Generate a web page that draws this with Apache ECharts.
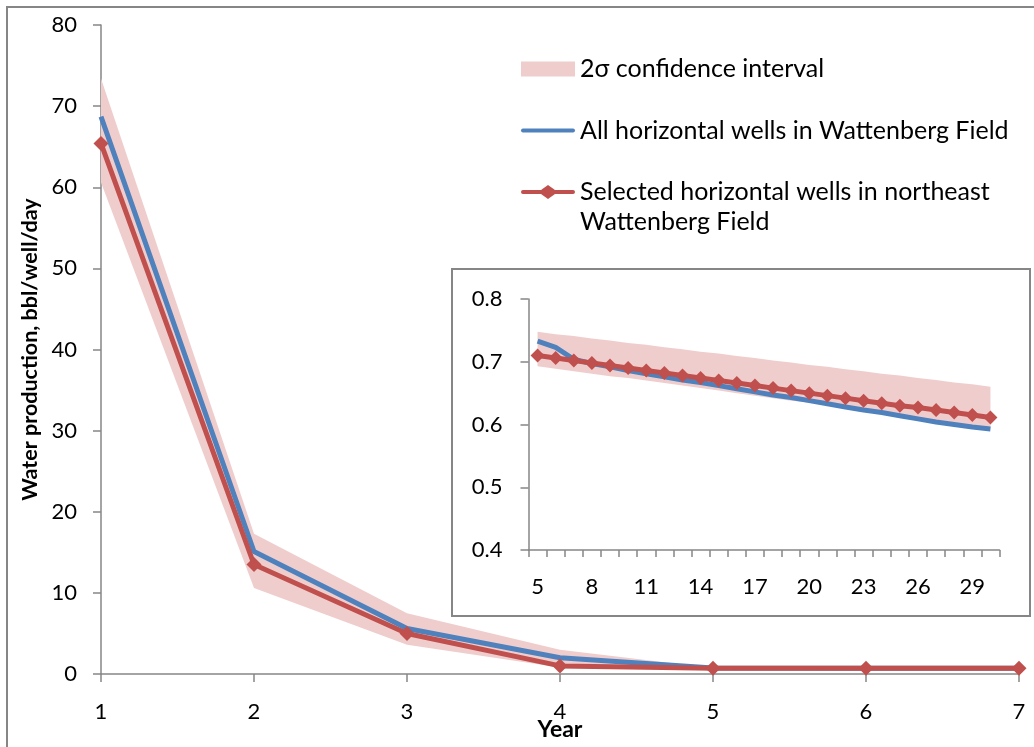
<!DOCTYPE html>
<html>
<head>
<meta charset="utf-8">
<script src="https://cdn.jsdelivr.net/npm/echarts@6/dist/echarts.min.js"></script>
<style>
  html, body { margin: 0; padding: 0; background: #fff; }
  #chart { width: 1034px; height: 747px; }
</style>
</head>
<body>
<div id="chart"></div>
<script>
// main chart, years 1-7
const years = ['1', '2', '3', '4', '5', '6', '7'];
const allWells = [68.7, 15.1, 5.6, 2.0, 0.733, 0.723, 0.704];
const selectedWells = [65.4, 13.5, 5.0, 1.0, 0.710, 0.706, 0.702];
const bandLow = [60.6, 10.6, 3.6, 0.8, 0.693, 0.689, 0.685];
const bandHigh = [73.4, 17.3, 7.5, 3.0, 0.748, 0.744, 0.741];

// inset, years 5-30
const insetYears = ['5', '6', '7', '8', '9', '10', '11', '12', '13', '14', '15', '16', '17',
  '18', '19', '20', '21', '22', '23', '24', '25', '26', '27', '28', '29', '30'];
const insetAll = [0.733, 0.723, 0.704, 0.697, 0.692, 0.686, 0.681, 0.676, 0.671, 0.667, 0.662,
  0.657, 0.652, 0.647, 0.643, 0.638, 0.633, 0.628, 0.623, 0.619, 0.614, 0.609, 0.604, 0.600, 0.596, 0.593];
const insetSelected = [0.710, 0.706, 0.702, 0.698, 0.694, 0.690, 0.686, 0.682, 0.678, 0.674, 0.670,
  0.666, 0.662, 0.658, 0.654, 0.650, 0.646, 0.642, 0.638, 0.634, 0.630, 0.627, 0.623, 0.619, 0.615, 0.611];
const insetLow = [0.693, 0.689, 0.685, 0.681, 0.677, 0.674, 0.670, 0.666, 0.662, 0.658, 0.654,
  0.650, 0.646, 0.642, 0.638, 0.635, 0.631, 0.627, 0.623, 0.619, 0.615, 0.611, 0.607, 0.603, 0.599, 0.595];
const insetHigh = [0.748, 0.744, 0.741, 0.737, 0.734, 0.730, 0.727, 0.723, 0.720, 0.716, 0.713,
  0.709, 0.706, 0.702, 0.699, 0.695, 0.692, 0.688, 0.685, 0.681, 0.678, 0.674, 0.671, 0.667, 0.664, 0.660];

const bandName = '2\u03c3 confidence interval';
const allName = 'All horizontal wells in Wattenberg Field';
const selName = 'Selected horizontal wells in northeast';

const FONT = 'Lato';
const GRAY = '#868686';
const BLUE = '#4F81BD';
const RED = '#C0504D';
const PINK = '#F0CDCD';

const diff = (hi, lo) => hi.map((v, i) => +(v - lo[i]).toFixed(4));

function bandSeries(stack, low, high, xi) {
  return [
    {
      type: 'line', stack: stack, data: low, xAxisIndex: xi, yAxisIndex: xi,
      symbol: 'none', lineStyle: { opacity: 0 }, silent: true, z: 1
    },
    {
      name: bandName, type: 'line', stack: stack, data: diff(high, low),
      xAxisIndex: xi, yAxisIndex: xi, symbol: 'none',
      lineStyle: { width: 0, color: PINK }, itemStyle: { color: PINK },
      areaStyle: { color: PINK, opacity: 1 }, silent: true, z: 1
    }
  ];
}

const axisLine = { show: true, lineStyle: { color: GRAY, width: 1.5 } };
const axisTick = { show: true, length: 8, lineStyle: { color: GRAY, width: 1.5 } };
const labelStyle = { color: '#000', fontFamily: FONT, fontSize: 22 };

const myChart = echarts.init(document.getElementById('chart'));
myChart.setOption({
  animation: false,
  backgroundColor: '#fff',
  grid: [
    { left: 101, right: 15, top: 25, bottom: 73, outerBoundsMode: 'none', containLabel: false },
    { left: 528.5, top: 299, width: 471, height: 251, outerBoundsMode: 'none', containLabel: false }
  ],
  legend: {
    orient: 'vertical',
    left: 521,
    top: 55,
    padding: 0,
    itemWidth: 54,
    itemHeight: 15,
    itemGap: 33.5,
    textStyle: { color: '#000', fontFamily: FONT, fontSize: 25, lineHeight: 28 },
    data: [
      { name: bandName, icon: 'rect' },
      { name: allName, icon: 'path://M2,0 L52,0 A2,2 0 0 1 52,4 L2,4 A2,2 0 0 1 2,0 Z' },
      { name: selName, icon: 'path://M2,5 L20,5 L27,0 L34,5 L52,5 A2,2 0 0 1 52,9 L34,9 L27,14 L20,9 L2,9 A2,2 0 0 1 2,5 Z' }
    ]
  },
  xAxis: [
    {
      type: 'category', gridIndex: 0, data: years, boundaryGap: false,
      axisLine: axisLine, axisTick: axisTick,
      axisLabel: Object.assign({ margin: 27 }, labelStyle),
      name: 'Year', nameLocation: 'middle', nameGap: 44, nameMoveOverlap: false,
      nameTextStyle: { color: '#000', fontFamily: FONT, fontSize: 23, fontWeight: 'bold' },
      splitLine: { show: false }
    },
    {
      type: 'category', gridIndex: 1, data: insetYears, boundaryGap: true,
      axisLine: axisLine,
      axisTick: { show: true, length: 7, interval: 0, lineStyle: { color: GRAY, width: 1.5 } },
      axisLabel: Object.assign({ margin: 26, interval: 2 }, labelStyle),
      splitLine: { show: false }
    }
  ],
  yAxis: [
    {
      type: 'value', gridIndex: 0, min: 0, max: 80, interval: 10,
      axisLine: axisLine, axisTick: axisTick,
      axisLabel: Object.assign({ margin: 24 }, labelStyle),
      splitLine: { show: false },
      name: 'Water production, bbl/well/day', nameLocation: 'middle', nameGap: 60,
      nameTextStyle: { color: '#000', fontFamily: FONT, fontSize: 21.5, fontWeight: 'bold' }
    },
    {
      type: 'value', gridIndex: 1, min: 0.4, max: 0.8, interval: 0.1,
      axisLine: axisLine, axisTick: axisTick,
      axisLabel: Object.assign({ margin: 26, formatter: v => v.toFixed(1) }, labelStyle),
      splitLine: { show: false }
    }
  ],
  graphic: [
    {
      type: 'rect', z: -10, silent: true,
      shape: { x: 7, y: 7, width: 1100, height: 800 },
      style: { fill: '#fff', stroke: GRAY, lineWidth: 2 }
    },
    {
      type: 'rect', z: -5, silent: true,
      shape: { x: 452, y: 269, width: 578, height: 347 },
      style: { fill: '#fff', stroke: GRAY, lineWidth: 2 }
    },
    {
      type: 'text', left: 580, top: 209, silent: true,
      style: { text: 'Wattenberg Field', fill: '#000', font: '25px Lato' }
    }
  ],
  series: [
    ...bandSeries('main', bandLow, bandHigh, 0),
    {
      name: allName, type: 'line', data: allWells, xAxisIndex: 0, yAxisIndex: 0,
      symbol: 'none', lineStyle: { color: BLUE, width: 5 }, itemStyle: { color: BLUE }, z: 3
    },
    {
      name: selName, type: 'line', data: selectedWells, xAxisIndex: 0, yAxisIndex: 0,
      symbol: 'diamond', symbolSize: 15, lineStyle: { color: RED, width: 5 },
      itemStyle: { color: RED }, z: 4
    },
    ...bandSeries('inset', insetLow, insetHigh, 1),
    {
      name: allName, type: 'line', data: insetAll, xAxisIndex: 1, yAxisIndex: 1,
      symbol: 'none', lineStyle: { color: BLUE, width: 5 }, itemStyle: { color: BLUE }, z: 3
    },
    {
      name: selName, type: 'line', data: insetSelected, xAxisIndex: 1, yAxisIndex: 1,
      symbol: 'diamond', symbolSize: 14, showAllSymbol: true, lineStyle: { color: RED, width: 5 },
      itemStyle: { color: RED }, z: 4
    }
  ]
});
</script>
</body>
</html>
